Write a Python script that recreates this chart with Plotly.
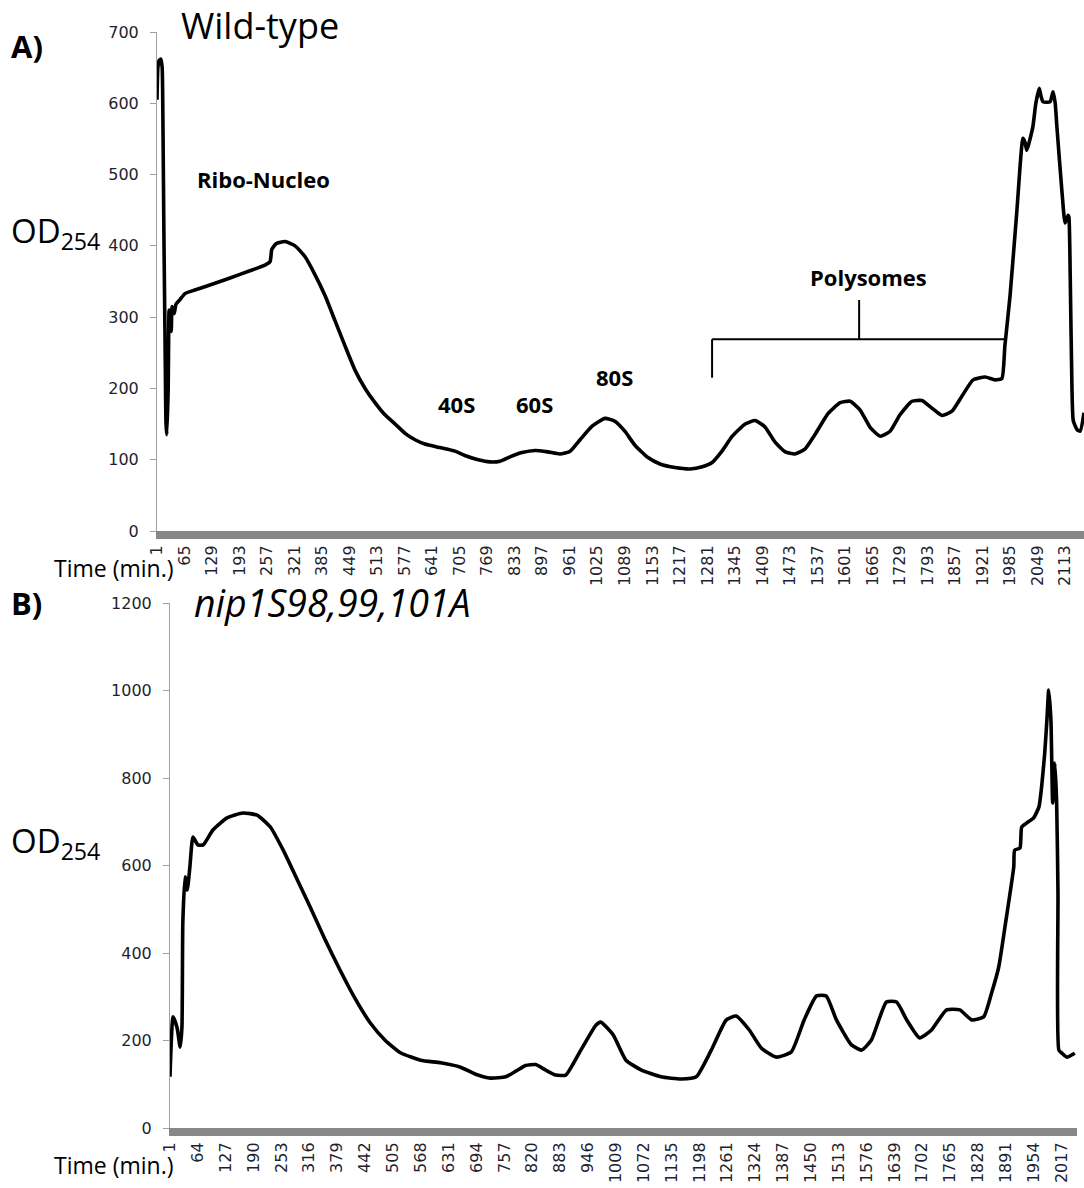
import plotly.graph_objects as go

# ---- Panel A: wild-type polysome profile ----
wt_time = [1, 3, 6, 10, 13, 15, 17, 20, 22, 24, 27, 29, 31, 34, 36, 41, 45, 55, 66, 89,
           124, 171, 217, 252, 264, 268, 278, 299, 322, 345, 368, 392, 415, 438, 462, 485,
           508, 531, 555, 578, 601, 624, 659, 694, 717, 748, 775, 799, 822, 850, 880, 910,
           938, 962, 985, 1013, 1043, 1066, 1089, 1113, 1143, 1171, 1206, 1241, 1269, 1292,
           1315, 1339, 1369, 1392, 1415, 1438, 1462, 1485, 1508, 1531, 1562, 1590, 1613,
           1636, 1660, 1683, 1706, 1729, 1757, 1780, 1804, 1827, 1850, 1874, 1899, 1927,
           1950, 1966, 1973, 1985, 2001, 2015, 2020, 2024, 2038, 2045, 2053, 2057, 2062,
           2078, 2085, 2090, 2094, 2106, 2113, 2120, 2122, 2125, 2129, 2132, 2141, 2148, 2157]
wt_od = [605, 650, 660, 662, 650, 560, 420, 250, 150, 135, 200, 310, 290, 280, 315, 305, 318,
         325, 333, 338, 345, 355, 365, 373, 378, 395, 403, 406, 400, 385, 360, 330, 295, 260,
         225, 200, 180, 163, 150, 137, 128, 122, 117, 112, 106, 100, 97, 98, 104, 110, 113,
         111, 108, 112, 128, 147, 158, 154, 140, 120, 103, 94, 89, 87, 90, 96, 112, 133, 150,
         155, 146, 125, 111, 108, 115, 135, 165, 180, 182, 170, 145, 133, 140, 163, 182, 183,
         172, 162, 168, 190, 212, 216, 212, 214, 260, 330, 450, 551, 545, 534, 567, 600, 621,
         610, 602, 602, 616, 600, 567, 474, 432, 443, 440, 356, 200, 155, 142, 140, 166]
wt_ticks = list(range(1, 2114, 64))

# ---- Panel B: nip1S98,99,101A polysome profile ----
mut_time = [1, 8, 17, 24, 28, 30, 35, 40, 46, 53, 64, 76, 98, 130, 166, 198, 228, 257, 289,
            318, 352, 386, 420, 454, 488, 522, 568, 613, 658, 692, 726, 760, 783, 805, 828,
            851, 873, 896, 930, 964, 975, 1003, 1032, 1066, 1111, 1157, 1191, 1225, 1259,
            1281, 1311, 1338, 1372, 1406, 1435, 1463, 1485, 1508, 1542, 1565, 1587, 1621,
            1644, 1667, 1696, 1723, 1757, 1787, 1814, 1841, 1859, 1875, 1889, 1909, 1911,
            1923, 1927, 1938, 1954, 1966, 1972, 1979, 1984, 1988, 1993, 1997, 2002, 2006,
            2009, 2011, 2018, 2029, 2047]
mut_od = [117, 254, 229, 185, 231, 469, 574, 544, 597, 665, 647, 647, 681, 709, 720, 715, 688,
          635, 567, 505, 430, 360, 295, 240, 200, 172, 155, 149, 139, 123, 114, 117, 130, 143,
          145, 132, 121, 121, 178, 235, 242, 213, 155, 133, 117, 112, 117, 178, 247, 256, 224,
          183, 162, 174, 247, 302, 302, 247, 190, 178, 201, 288, 288, 247, 206, 224, 270, 270,
          247, 254, 309, 368, 459, 597, 635, 640, 688, 697, 709, 734, 780, 857, 933, 1001, 933,
          743, 834, 743, 537, 178, 171, 162, 171]
mut_ticks = list(range(1, 2018, 63))

W, H = 1084, 1188
TICK_FONT = dict(family="DejaVu Sans", size=16, color="#1f1f2f")
TEXT_FONT = "Open Sans"


def px(x):
    return x / W


def py(y):
    return 1 - y / H


fig = go.Figure()
line = dict(color="black", width=3.6, shape="spline", smoothing=0.5)
fig.add_trace(go.Scatter(x=wt_time, y=wt_od, mode="lines", line=line,
                         xaxis="x", yaxis="y", showlegend=False, hoverinfo="skip"))
fig.add_trace(go.Scatter(x=mut_time, y=mut_od, mode="lines", line=line,
                         xaxis="x2", yaxis="y2", showlegend=False, hoverinfo="skip"))

xcommon = dict(showgrid=False, zeroline=False, showline=True, linecolor="#878787",
               linewidth=8, ticks="", tickangle=-90, tickfont=TICK_FONT, automargin=False)
ycommon = dict(showgrid=False, zeroline=False, showline=True, linecolor="#a0a0a0",
               linewidth=1, ticks="outside", ticklen=6, tickcolor="#a0a0a0",
               tickfont=TICK_FONT, ticklabelstandoff=8, automargin=False)

fig.update_layout(
    width=W, height=H, margin=dict(l=0, r=0, t=0, b=0, autoexpand=False),
    paper_bgcolor="white", plot_bgcolor="white",
    xaxis=dict(xcommon, domain=[px(157), 1.0], range=[1, 2157], anchor="y",
               tickvals=wt_ticks, ticktext=[str(t) for t in wt_ticks]),
    yaxis=dict(ycommon, domain=[py(531), py(32)], range=[0, 700], anchor="x",
               tickvals=list(range(0, 701, 100))),
    xaxis2=dict(xcommon, domain=[px(170), px(1077)], range=[1, 2052], anchor="y2",
                tickvals=mut_ticks, ticktext=[str(t) for t in mut_ticks]),
    yaxis2=dict(ycommon, domain=[py(1128), py(603)], range=[0, 1200], anchor="x2",
                tickvals=list(range(0, 1201, 200))),
)

ann = []


def paper_text(text, x, y, size, bold=False, italic=False):
    if bold:
        text = f"<b>{text}</b>"
    if italic:
        text = f"<i>{text}</i>"
    ann.append(dict(text=text, x=px(x), y=py(y), xref="paper", yref="paper",
                    xanchor="left", yanchor="middle", showarrow=False, borderpad=0,
                    font=dict(family=TEXT_FONT, size=size, color="black")))


paper_text("A)", 10, 46, 31, bold=True)
paper_text("Wild-type", 180, 25, 36)
paper_text("OD<sub>254</sub>", 10, 232, 33)
paper_text("Time (min.)", 53, 568, 23)
paper_text("B)", 10, 603, 31, bold=True)
paper_text("nip1S98,99,101A", 193, 602, 37.5, italic=True)
paper_text("OD<sub>254</sub>", 10, 842, 33)
paper_text("Time (min.)", 53, 1165, 23)

# peak labels on the wild-type profile
for label, t, od in [("Ribo-Nucleo", 248, 494), ("40S", 697, 178), ("60S", 880, 178),
                     ("80S", 1066, 216), ("Polysomes", 1655, 356)]:
    ann.append(dict(text=f"<b>{label}</b>", x=t, y=od, xref="x", yref="y",
                    showarrow=False, xanchor="center", yanchor="middle",
                    font=dict(family=TEXT_FONT, size=22, color="black")))
fig.update_layout(annotations=ann)

# bracket grouping the polysome peaks
bracket = dict(color="black", width=2)
fig.add_shape(type="line", xref="x", yref="y", x0=1292, x1=1292, y0=215, y1=269, line=bracket)
fig.add_shape(type="line", xref="x", yref="y", x0=1292, x1=1974, y0=269, y1=269, line=bracket)
fig.add_shape(type="line", xref="x", yref="y", x0=1634, x1=1634, y0=269, y1=324, line=bracket)

fig.write_html("out.html")
